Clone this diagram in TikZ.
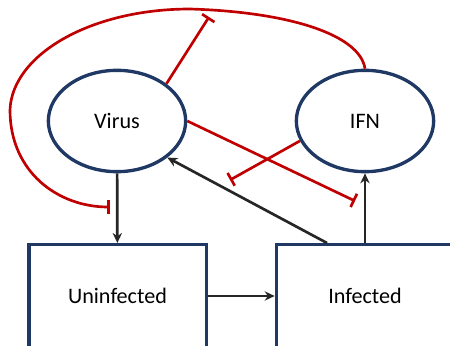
\documentclass[tikz,border=0pt]{standalone}
\usepackage{fontspec}
\setmainfont{Carlito}
\usetikzlibrary{shapes.geometric,arrows.meta}
\definecolor{navy}{HTML}{1F3864}
\definecolor{inhred}{HTML}{C00000}
\definecolor{actgray}{HTML}{262626}

\begin{document}
\begin{tikzpicture}[x=0.75pt, y=-0.75pt,
  every node/.style = {font=\fontsize{16.6}{19}\selectfont, draw=navy, line width=2.5pt},
  pop/.style = {ellipse, minimum width=103pt, minimum height=76pt},
  compartment/.style = {rectangle, minimum width=133pt, minimum height=77pt},
  act/.style = {-{Stealth[length=7.5pt,width=7pt]}, draw=actgray, line width=2pt},
  inh/.style = {-{Bar[width=11pt]}, draw=inhred, line width=2pt}]
  \clip (0,0) rectangle (450,346);
  \node[pop] (virus) at (117,121) {Virus};
  \node[pop] (ifn) at (365,121) {IFN};
  \node[compartment] (uninf) at (117.5,296) {Uninfected};
  \node[compartment] (inf) at (365,296) {Infected};
  % free ends of the inhibition bars
  \coordinate (hitTop) at (209,17);
  \coordinate (hitInf) at (355,201);
  \coordinate (hitVir) at (230,180);
  \coordinate (hitUninf) at (110,207);
  \draw[act] (virus) -- (uninf);
  \draw[act] (uninf) -- (inf);
  \draw[act] (inf) -- (ifn);
  \draw[act] ([xshift=-28.5pt]inf.north) -- (virus.-36);
  \draw[inh] (virus.37) -- (hitTop);
  \draw[inh] (virus.east) -- (hitInf);
  \draw[inh] (ifn.197) -- (hitVir);
  \draw[inh] (ifn.north) .. controls (360,35) and (290,12) .. (190,9)
    .. controls (90,9) and (12,55) .. (10,110)
    .. controls (10,172) and (58,207) .. (hitUninf);
\end{tikzpicture}
\end{document}
